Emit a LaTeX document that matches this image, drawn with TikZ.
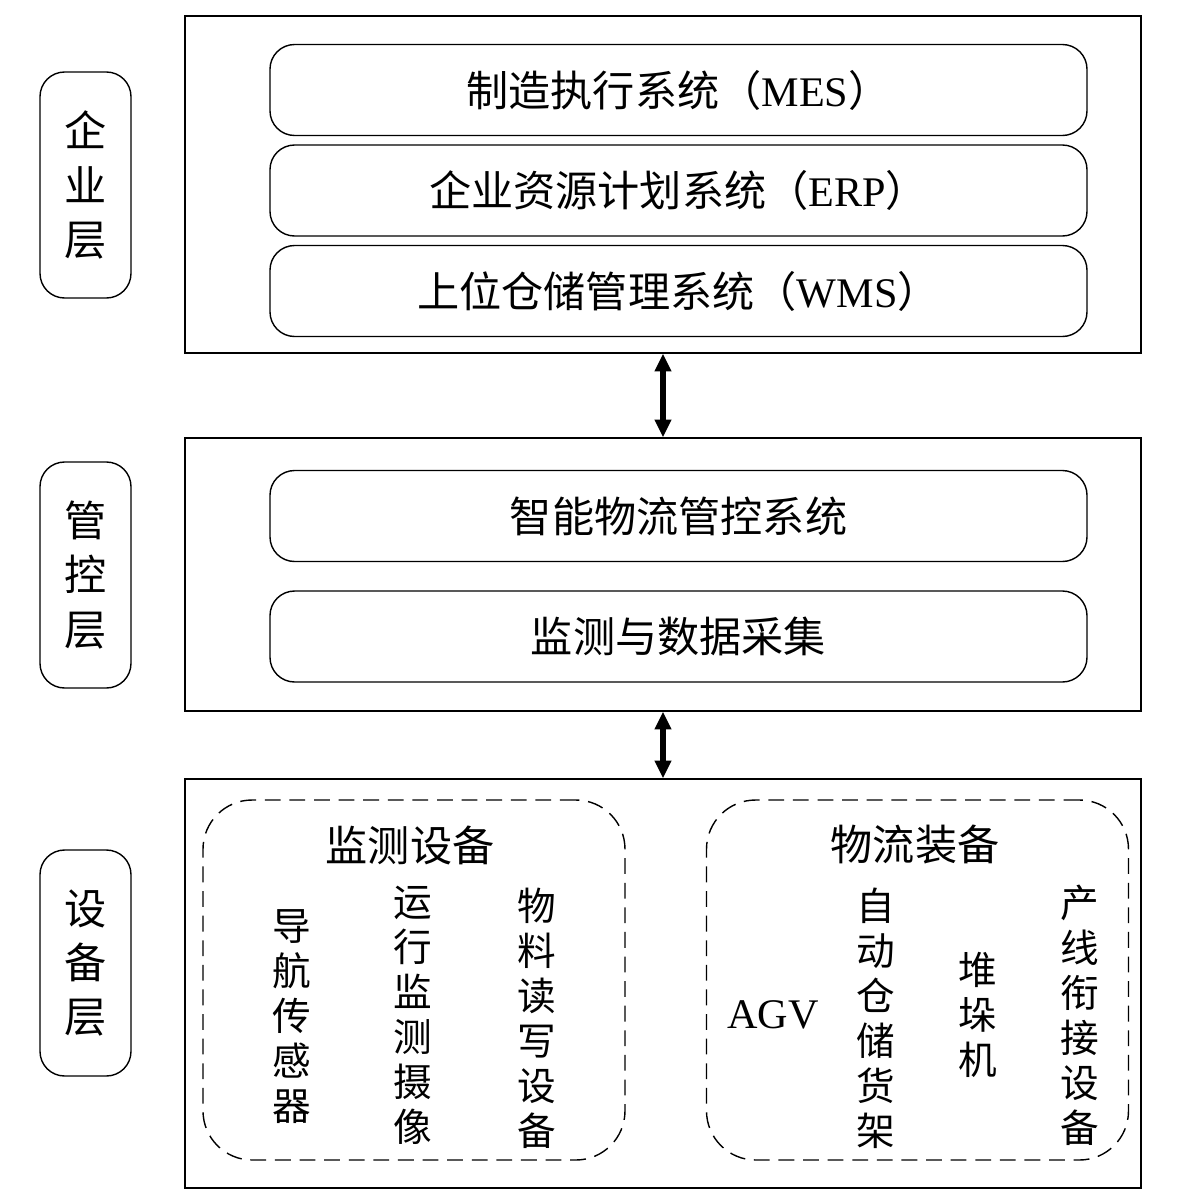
\documentclass[tikz,border=0pt]{standalone}
\usepackage{fontspec}
\setmainfont{Liberation Serif}
\newfontfamily\cjk{Noto Sans CJK SC}
\usetikzlibrary{positioning,arrows.meta}
\begin{document}
\begin{tikzpicture}[x=0.02cm,y=-0.02cm,
    layer/.style={draw,thick,minimum width=956*0.02cm},
    sys/.style={draw,thick,rounded corners=14pt,minimum width=817*0.02cm,minimum height=91*0.02cm,font=\fontsize{24}{28}\selectfont},
    tag/.style={draw,thick,rounded corners=14pt,minimum width=91*0.02cm,minimum height=226*0.02cm,align=center,font=\fontsize{24}{31}\selectfont\cjk},
    group/.style={draw,thick,dash pattern=on 9pt off 5pt,rounded corners=28pt,minimum width=422*0.02cm,minimum height=360*0.02cm},
    vtext/.style={align=center,font=\fontsize{22}{25.6}\selectfont\cjk},
    link/.style={line width=3pt,{Triangle[length=10pt,width=9pt]}-{Triangle[length=10pt,width=9pt]}}]
  \useasboundingbox (0,0) rectangle (1192,1204);

  % layers
  \node[layer,minimum height=337*0.02cm] (ent) at (663,184.5) {};
  \node[layer,minimum height=273*0.02cm] (ctl) at (663,574.5) {};
  \node[layer,minimum height=409*0.02cm] (dev) at (663,983.5) {};

  \node[tag] (tent) at (85.5,185) {企\\业\\层};
  \node[tag] (tctl) at (85.5,575) {管\\控\\层};
  \node[tag] (tdev) at (85.5,963) {设\\备\\层};

  \node[sys] (mes) at (678.5,90) {{\cjk 制造执行系统（}MES{\cjk ）}};
  \node[sys] (erp) at (678.5,190.5) {{\cjk 企业资源计划系统（}ERP{\cjk ）}};
  \node[sys] (wms) at (678.5,291) {{\cjk 上位仓储管理系统（}WMS{\cjk ）}};
  \node[sys,font=\fontsize{24}{28}\selectfont\cjk] (lms) at (678.5,516) {智能物流管控系统};
  \node[sys,font=\fontsize{24}{28}\selectfont\cjk] (mon) at (678.5,636.5) {监测与数据采集};

  \draw[link] (ent.south) -- (ctl.north);
  \draw[link] (ctl.south) -- (dev.north);

  % equipment layer
  \node[group] (gmon) at (414,980) {};
  \node[group] (glog) at (917.5,980) {};
  \node[vtext,font=\fontsize{24}{28}\selectfont\cjk] (hmon) at (410,845) {监测设备};
  \node[vtext,font=\fontsize{24}{28}\selectfont\cjk] (hlog) at (915,845) {物流装备};
  \node[vtext] (nav) at (292,1017) {导\\航\\传\\感\\器};
  \node[vtext] (cam) at (413,1015) {运\\行\\监\\测\\摄\\像};
  \node[vtext] (rw) at (537,1018) {物\\料\\读\\写\\设\\备};
  \node[font=\fontsize{24}{28}\selectfont] (agv) at (773,1015) {AGV};
  \node[vtext] (rack) at (876,1018) {自\\动\\仓\\储\\货\\架};
  \node[vtext] (stk) at (978,1015) {堆\\垛\\机};
  \node[vtext] (line) at (1080,1015) {产\\线\\衔\\接\\设\\备};
\end{tikzpicture}
\end{document}
